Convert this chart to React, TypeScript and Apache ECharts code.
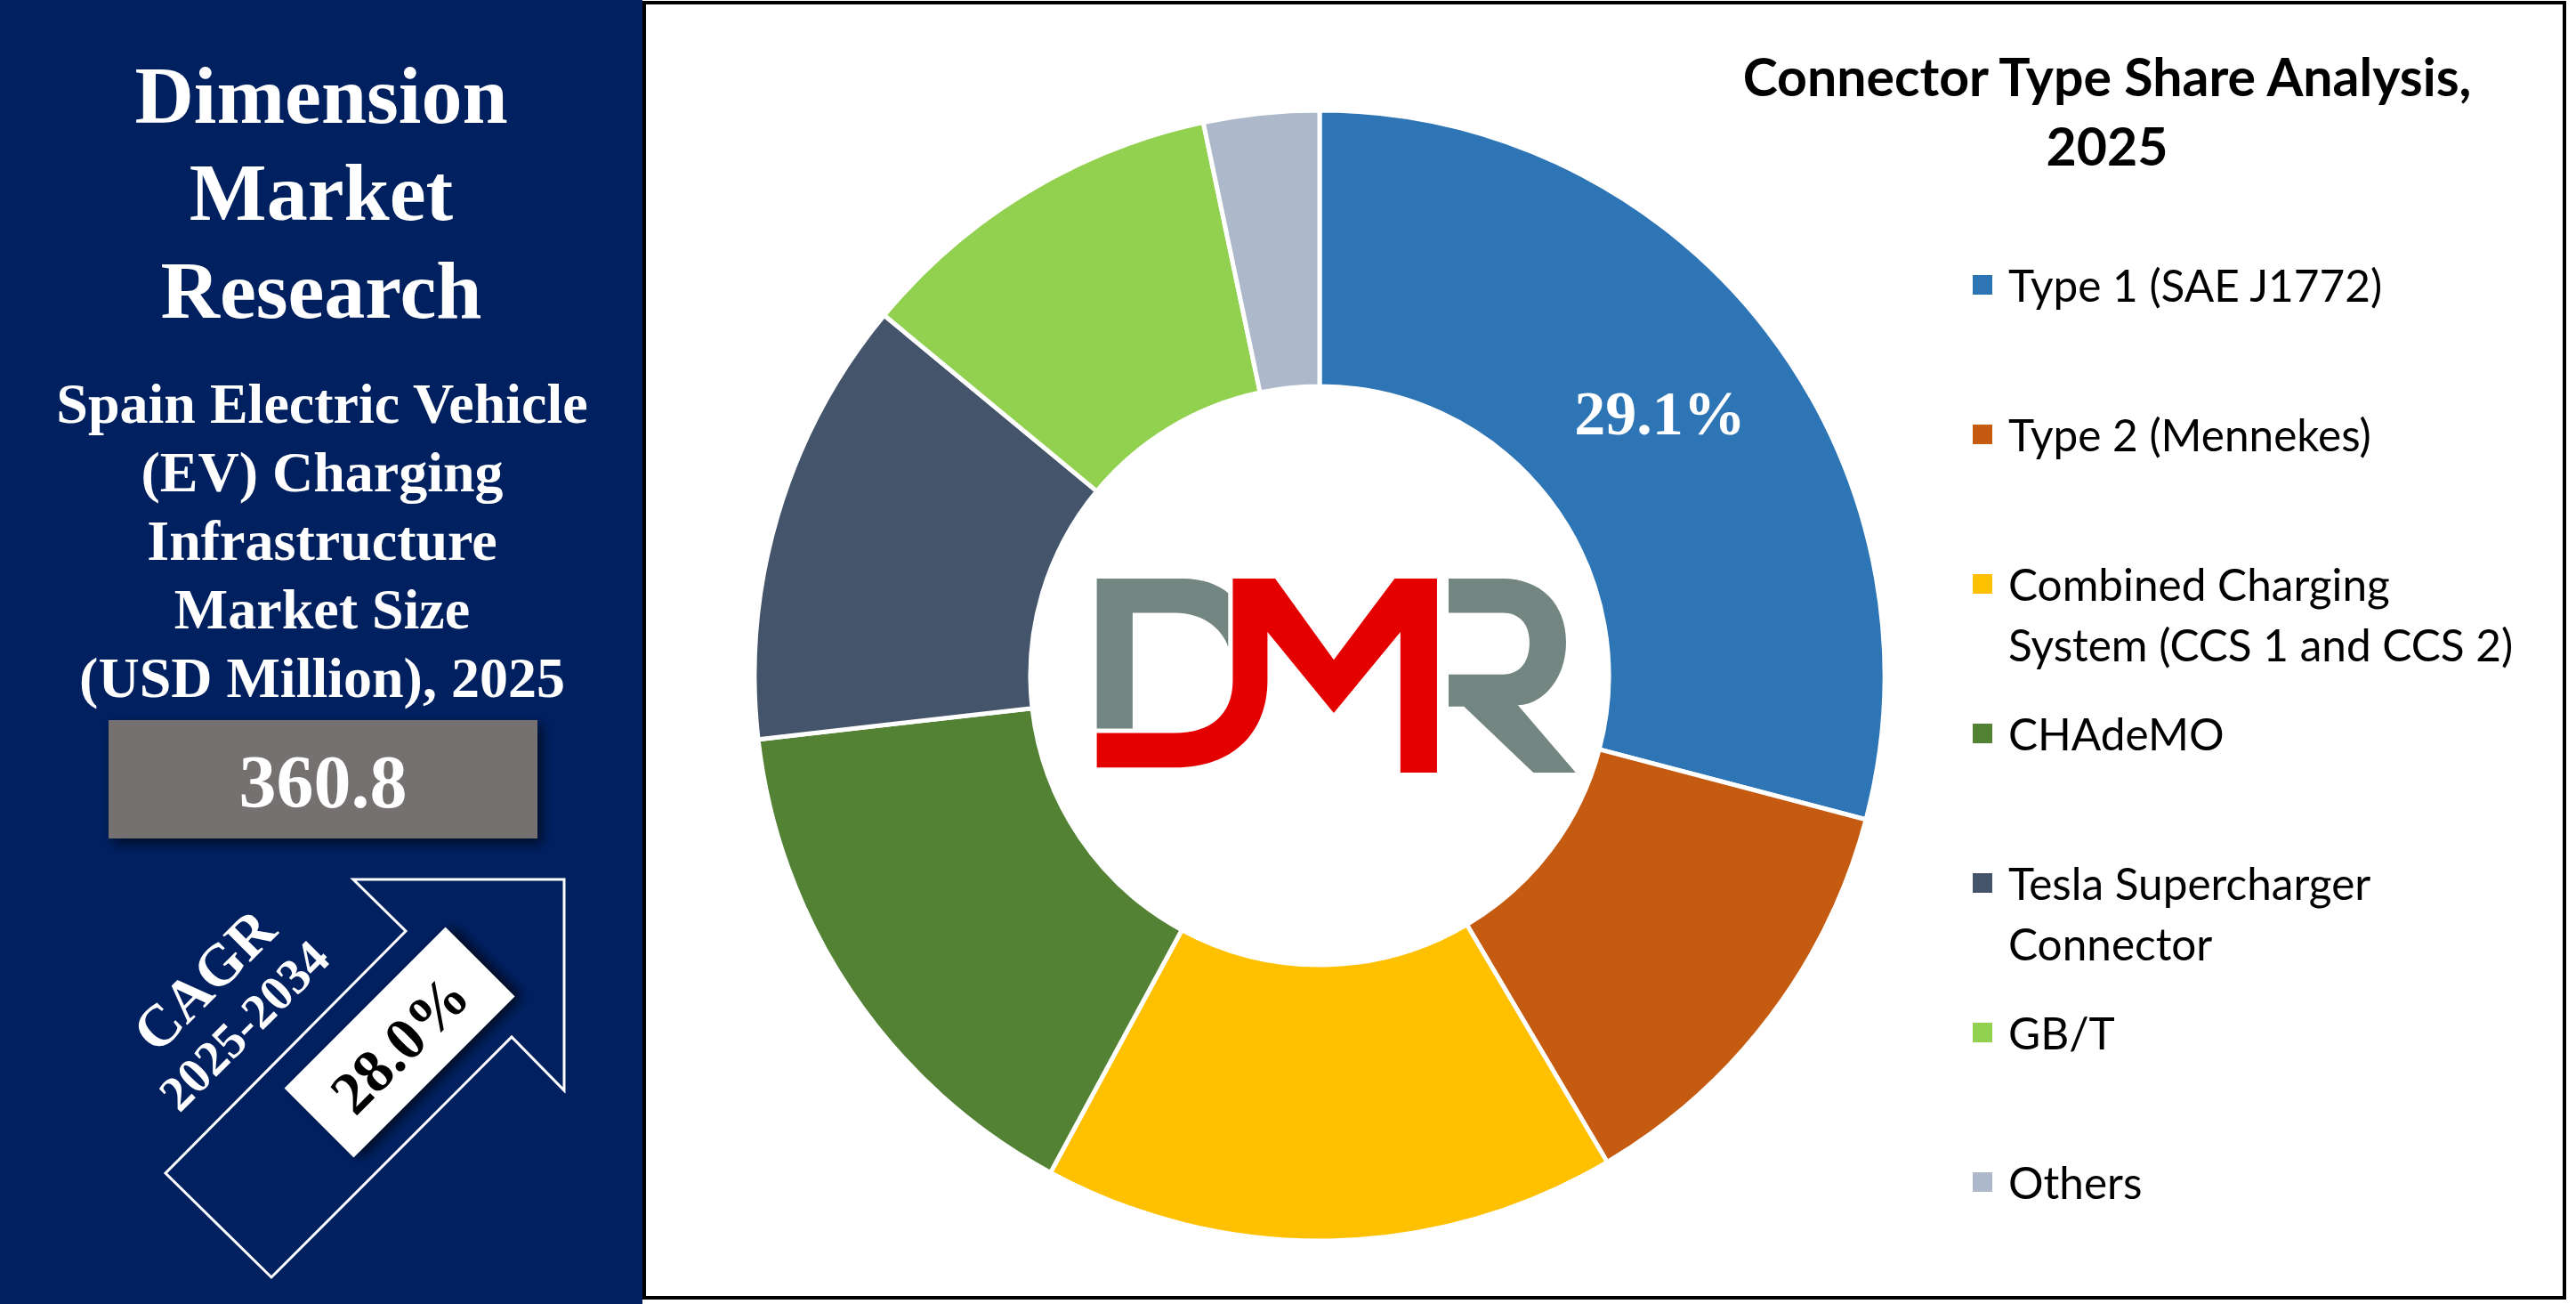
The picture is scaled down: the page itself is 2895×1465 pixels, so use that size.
import React, { useEffect, useRef } from "react";
import * as echarts from "echarts";

// ---------- data ----------
const categories = [
  "Type 1 (SAE J1772)",
  "Type 2 (Mennekes)",
  "Combined Charging System (CCS 1 and CCS 2)",
  "CHAdeMO",
  "Tesla Supercharger Connector",
  "GB/T",
  "Others",
];
const legendLines = [
  ["Type 1 (SAE J1772)"],
  ["Type 2 (Mennekes)"],
  ["Combined Charging", "System (CCS 1 and CCS 2)"],
  ["CHAdeMO"],
  ["Tesla Supercharger", "Connector"],
  ["GB/T"],
  ["Others"],
];
const shares = [29.1, 12.4, 16.4, 15.3, 12.8, 10.7, 3.3];
const labeledIndexes = [0];
const titleLines = ["Connector Type Share Analysis,", "2025"];
const brandLines = ["Dimension", "Market", "Research"];
const subtitleLines = [
  "Spain Electric Vehicle",
  "(EV) Charging",
  "Infrastructure",
  "Market Size",
  "(USD Million), 2025",
];
const marketSize = "360.8";
const cagrLabel = "CAGR";
const cagrPeriod = "2025-2034";
const cagrValue = "28.0%";

// ---------- styles ----------
const sliceColors = ["#2E75B6", "#C55A11", "#FFC000", "#548235", "#44546A", "#92D050", "#ADB9CA"];
const NAVY = "#002060";
const SERIF = '"Liberation Serif", "Times New Roman", serif';
const SANS = 'Lato, "Open Sans", sans-serif';

// ---------- logo shapes ----------
const D_PATH =
  "M237,213 L460,213 C510,213 550,232 578,262 L578,445 C560,380 510,330 440,330 L330,330 L330,725 L237,725 Z";
const JM_PATH =
  "M590,213 L700,213 L852,490 L1010,213 L1120,213 L1120,875 L1025,875 L1025,395 L852,672 L680,395 L680,560 C680,740 590,858 440,858 L237,858 L237,740 L440,740 C530,740 590,680 590,560 Z";
const R_PATH =
  "M1150,213 L1290,213 C1390,213 1455,300 1455,430 C1455,560 1390,645 1330,645 L1480,875 L1370,875 L1190,650 L1150,650 L1150,540 L1290,540 C1340,540 1360,490 1360,430 C1360,370 1335,330 1290,330 L1150,330 Z";

let registered = false;
function registerLogo() {
  if (registered) return;
  registered = true;
  echarts.graphic.registerShape("dmrD", echarts.graphic.extendPath(D_PATH, {}));
  echarts.graphic.registerShape("dmrJM", echarts.graphic.extendPath(JM_PATH, {}));
  echarts.graphic.registerShape("dmrR", echarts.graphic.extendPath(R_PATH, {}));
}

function buildGraphic() {
  const els: any[] = [];
  // left navy panel
  els.push({ type: "rect", z: -10, shape: { x: 0, y: 0, width: 722, height: 1465 }, style: { fill: NAVY } });
  // right framed panel
  els.push({
    type: "rect",
    z: -10,
    shape: { x: 724, y: 3, width: 2158, height: 1455 },
    style: { fill: "#ffffff", stroke: "#000000", lineWidth: 4 },
  });

  const brandY = [107, 216, 326];
  brandLines.forEach((t, i) => {
    els.push({
      type: "text",
      x: 361,
      y: brandY[i],
      style: { text: t, fill: "#fff", font: `bold 92px ${SERIF}`, textAlign: "center", textVerticalAlign: "middle" },
    });
  });
  const subY = [453, 530, 607, 684, 761];
  subtitleLines.forEach((t, i) => {
    els.push({
      type: "text",
      x: 362,
      y: subY[i],
      style: { text: t, fill: "#fff", font: `bold 64px ${SERIF}`, textAlign: "center", textVerticalAlign: "middle" },
    });
  });

  // market size box
  els.push({
    type: "rect",
    shape: { x: 122, y: 809, width: 482, height: 133 },
    style: { fill: "#767171", shadowBlur: 14, shadowColor: "rgba(0,0,0,0.6)", shadowOffsetX: 5, shadowOffsetY: 6 },
  });
  els.push({
    type: "text",
    x: 363,
    y: 878,
    style: { text: marketSize, fill: "#fff", font: `bold 84px ${SERIF}`, textAlign: "center", textVerticalAlign: "middle" },
  });

  // arrow outline
  els.push({
    type: "polygon",
    shape: {
      points: [
        [634, 988],
        [397, 988],
        [456, 1046],
        [186, 1318],
        [305, 1435],
        [575, 1165],
        [634, 1225],
      ],
    },
    style: { fill: "none", stroke: "#ffffff", lineWidth: 3 },
  });

  // CAGR value box
  els.push({
    type: "rect",
    x: 449,
    y: 1171,
    rotation: Math.PI / 4,
    shape: { x: -128, y: -55, width: 256, height: 110 },
    style: { fill: "#ffffff", shadowBlur: 14, shadowColor: "rgba(0,0,0,0.7)", shadowOffsetX: 6, shadowOffsetY: 6 },
  });
  els.push({
    type: "text",
    x: 449,
    y: 1173,
    rotation: Math.PI / 4,
    style: { text: cagrValue, fill: "#000", font: `bold 68px ${SERIF}`, textAlign: "center", textVerticalAlign: "middle" },
  });
  els.push({
    type: "text",
    x: 229,
    y: 1101,
    rotation: Math.PI / 4,
    style: { text: cagrLabel, fill: "#fff", font: `bold 66px ${SERIF}`, textAlign: "center", textVerticalAlign: "middle" },
  });
  els.push({
    type: "text",
    x: 274,
    y: 1152,
    rotation: Math.PI / 4,
    style: { text: cagrPeriod, fill: "#fff", font: `bold 56px ${SERIF}`, textAlign: "center", textVerticalAlign: "middle" },
  });

  // title
  const titleY = [85, 163];
  titleLines.forEach((t, i) => {
    els.push({
      type: "text",
      x: 2368,
      y: titleY[i],
      style: { text: t, fill: "#000", font: `bold 59px ${SANS}`, textAlign: "center", textVerticalAlign: "middle" },
    });
  });

  // legend (built from categories / colors)
  categories.forEach((_, i) => {
    const cy = 320 + 168 * i;
    els.push({
      type: "rect",
      shape: { x: 2217, y: cy - 11, width: 22, height: 22 },
      style: { fill: sliceColors[i] },
    });
    legendLines[i].forEach((line, j) => {
      els.push({
        type: "text",
        x: 2257,
        y: cy + 68 * j,
        style: { text: line, fill: "#000", font: `49.5px ${SANS}`, textAlign: "left", textVerticalAlign: "middle" },
      });
    });
  });

  // DMR logo in the centre hole
  const logoT = { x: 1130, y: 580, scaleX: 1 / 2.31, scaleY: 1 / 3.04 };
  els.push({ type: "dmrD", ...logoT, style: { fill: "#748682" } });
  els.push({ type: "dmrR", ...logoT, style: { fill: "#748682" } });
  els.push({ type: "dmrJM", ...logoT, style: { fill: "#E50000" } });
  return els;
}

export default function App() {
  const ref = useRef<HTMLDivElement>(null);
  useEffect(() => {
    if (!ref.current) return;
    registerLogo();
    const chart = echarts.init(ref.current, undefined, { renderer: "svg" });
    const data = categories.map((name, i) => ({
      name,
      value: shares[i],
      itemStyle: { color: sliceColors[i] },
      label: { show: labeledIndexes.includes(i) },
    }));
    chart.setOption({
      animation: false,
      backgroundColor: "#ffffff",
      graphic: { elements: buildGraphic() },
      series: [
        {
          type: "pie",
          center: [1483, 759],
          radius: [325, 635],
          startAngle: 90,
          clockwise: true,
          silent: true,
          avoidLabelOverlap: false,
          itemStyle: { borderColor: "#ffffff", borderWidth: 5 },
          label: {
            show: false,
            position: "inside",
            formatter: "{c}%",
            color: "#ffffff",
            fontFamily: SERIF,
            fontWeight: "bold",
            fontSize: 70,
          },
          labelLine: { show: false },
          emphasis: { disabled: true },
          data,
        },
      ],
    });
    return () => chart.dispose();
  }, []);
  return <div ref={ref} style={{ position: "fixed", left: 0, top: 0, width: 2895, height: 1465 }} />;
}
